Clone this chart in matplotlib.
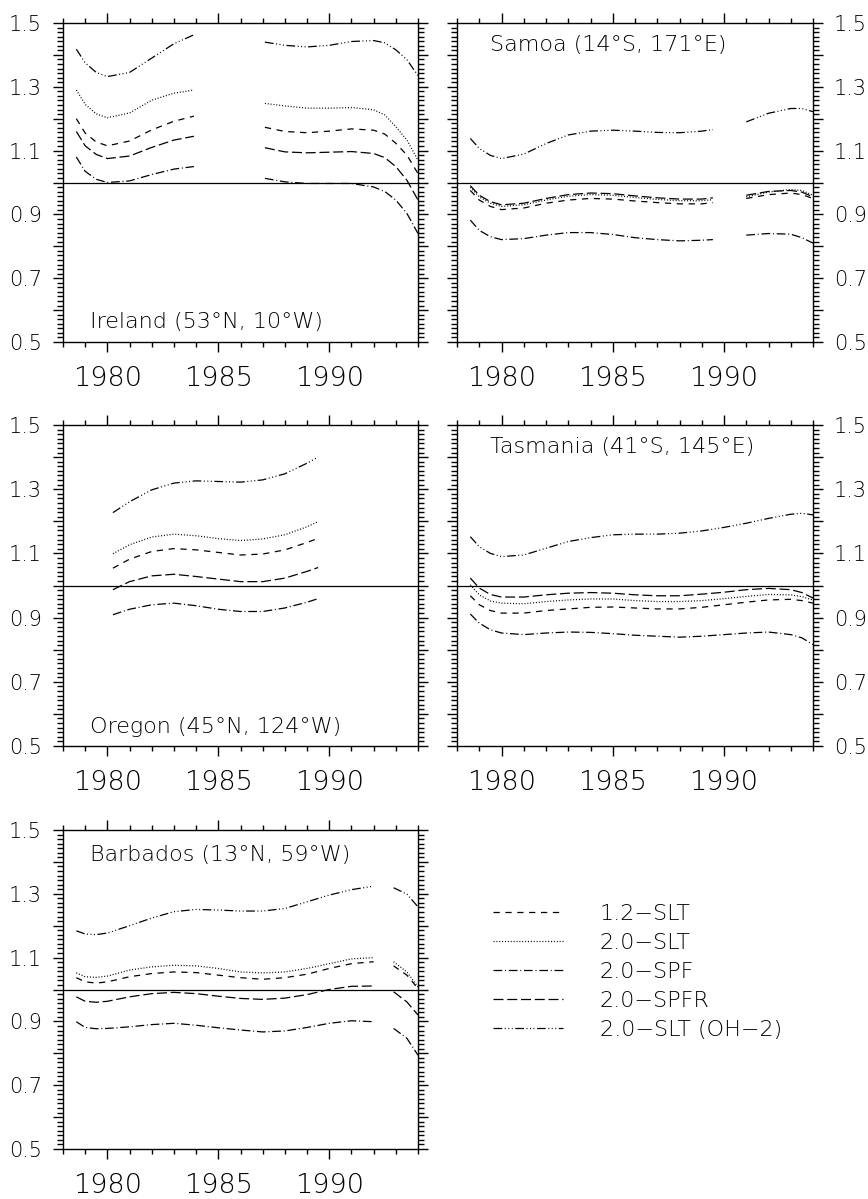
import numpy as np
import matplotlib
matplotlib.use("Agg")
import matplotlib.pyplot as plt
from matplotlib.ticker import MultipleLocator, AutoMinorLocator, FuncFormatter

plt.rcParams["font.family"] = ["DejaVu Sans"]
plt.rcParams["font.weight"] = "light"

nan = np.nan

# Model runs shown in every panel
RUNS = ["1.2−SLT", "2.0−SLT", "2.0−SPF", "2.0−SPFR", "2.0−SLT (OH−2)"]

# ---- Ireland (53N, 10W) ----
IRL_YEARS = [1978.6, 1979, 1979.5, 1980, 1981, 1982, 1983, 1983.9, nan,
             1987.1, 1988, 1989, 1990, 1991, 1992, 1992.5, 1993, 1993.5, 1994]
IRL_SLT12 = [1.200, 1.155, 1.127, 1.115, 1.130, 1.165, 1.192, 1.208, nan,
             1.173, 1.160, 1.156, 1.161, 1.168, 1.164, 1.152, 1.123, 1.086, 1.028]
IRL_SLT20 = [1.290, 1.245, 1.215, 1.203, 1.218, 1.258, 1.280, 1.290, nan,
             1.248, 1.240, 1.233, 1.233, 1.235, 1.228, 1.212, 1.175, 1.133, 1.070]
IRL_SPF = [1.080, 1.035, 1.010, 1.000, 1.005, 1.025, 1.042, 1.050, nan,
           1.013, 1.002, 0.997, 0.997, 0.997, 0.986, 0.972, 0.945, 0.903, 0.840]
IRL_SPFR = [1.160, 1.115, 1.088, 1.075, 1.083, 1.110, 1.133, 1.145, nan,
            1.109, 1.096, 1.093, 1.095, 1.097, 1.091, 1.078, 1.050, 1.007, 0.945]
IRL_OH2 = [1.418, 1.375, 1.345, 1.332, 1.345, 1.390, 1.435, 1.463, nan,
           1.440, 1.430, 1.425, 1.430, 1.442, 1.445, 1.438, 1.416, 1.385, 1.335]

# ---- Samoa (14S, 171E) ----
SAM_YEARS = [1978.6, 1979, 1979.5, 1980, 1981, 1982, 1983, 1984, 1985, 1986,
             1987, 1988, 1989, 1989.5, nan, 1991, 1992, 1993, 1993.5, 1994]
SAM_SLT12 = [0.975, 0.945, 0.925, 0.915, 0.920, 0.935, 0.945, 0.950, 0.948, 0.942,
             0.937, 0.933, 0.933, 0.937, nan, 0.950, 0.962, 0.967, 0.962, 0.950]
SAM_SLT20 = [0.985, 0.955, 0.935, 0.925, 0.930, 0.945, 0.957, 0.962, 0.960, 0.953,
             0.947, 0.943, 0.943, 0.946, nan, 0.955, 0.970, 0.978, 0.975, 0.960]
SAM_SPF = [0.882, 0.850, 0.830, 0.821, 0.824, 0.835, 0.843, 0.843, 0.837, 0.827,
           0.821, 0.817, 0.819, 0.821, nan, 0.835, 0.840, 0.838, 0.827, 0.810]
SAM_SPFR = [0.990, 0.960, 0.940, 0.930, 0.935, 0.950, 0.962, 0.967, 0.965, 0.958,
            0.952, 0.948, 0.948, 0.952, nan, 0.960, 0.972, 0.975, 0.970, 0.955]
SAM_OH2 = [1.138, 1.107, 1.085, 1.075, 1.089, 1.122, 1.149, 1.161, 1.164, 1.161,
           1.157, 1.156, 1.161, 1.166, nan, 1.190, 1.217, 1.232, 1.232, 1.222]

# ---- Oregon (45N, 124W) ----
ORE_YEARS = [1980.25, 1981, 1982, 1983, 1984, 1985, 1986, 1987, 1988, 1989, 1989.5]
ORE_SLT12 = [1.054, 1.082, 1.106, 1.115, 1.111, 1.103, 1.095, 1.098, 1.111, 1.134, 1.147]
ORE_SLT20 = [1.099, 1.127, 1.151, 1.160, 1.155, 1.146, 1.140, 1.145, 1.158, 1.183, 1.199]
ORE_SPF = [0.909, 0.926, 0.940, 0.945, 0.937, 0.926, 0.919, 0.919, 0.930, 0.948, 0.959]
ORE_SPFR = [0.987, 1.012, 1.030, 1.035, 1.028, 1.020, 1.012, 1.012, 1.023, 1.044, 1.056]
ORE_OH2 = [1.227, 1.261, 1.298, 1.319, 1.326, 1.324, 1.322, 1.329, 1.348, 1.381, 1.400]

# ---- Tasmania (41S, 145E) ----
TAS_YEARS = [1978.6, 1979, 1979.5, 1980, 1981, 1982, 1983, 1984, 1985, 1986,
             1987, 1988, 1989, 1990, 1991, 1992, 1993, 1993.5, 1994]
TAS_SLT12 = [0.968, 0.940, 0.922, 0.914, 0.914, 0.922, 0.927, 0.932, 0.933, 0.930,
             0.927, 0.927, 0.932, 0.940, 0.948, 0.955, 0.957, 0.953, 0.945]
TAS_SLT20 = [1.002, 0.971, 0.952, 0.945, 0.943, 0.950, 0.955, 0.958, 0.958, 0.953,
             0.950, 0.950, 0.953, 0.959, 0.966, 0.972, 0.971, 0.965, 0.955]
TAS_SPF = [0.911, 0.883, 0.862, 0.852, 0.847, 0.852, 0.855, 0.854, 0.850, 0.845,
           0.842, 0.839, 0.842, 0.847, 0.852, 0.855, 0.847, 0.837, 0.816]
TAS_SPFR = [1.023, 0.992, 0.972, 0.964, 0.964, 0.971, 0.976, 0.978, 0.976, 0.971,
            0.968, 0.968, 0.973, 0.979, 0.987, 0.991, 0.987, 0.978, 0.961]
TAS_OH2 = [1.152, 1.121, 1.100, 1.090, 1.095, 1.116, 1.137, 1.149, 1.158, 1.160,
           1.160, 1.163, 1.170, 1.181, 1.194, 1.209, 1.222, 1.225, 1.220]

# ---- Barbados (13N, 59W) ----
BAR_YEARS = [1978.6, 1979, 1979.5, 1980, 1981, 1982, 1983, 1984, 1985, 1986,
             1987, 1988, 1989, 1990, 1991, 1992, nan, 1992.9, 1993.5, 1994]
BAR_SLT12 = [1.037, 1.024, 1.020, 1.024, 1.040, 1.050, 1.055, 1.053, 1.045, 1.037,
             1.032, 1.037, 1.048, 1.066, 1.081, 1.087, nan, 1.074, 1.045, 1.003]
BAR_SLT20 = [1.052, 1.040, 1.038, 1.042, 1.061, 1.071, 1.076, 1.074, 1.066, 1.055,
             1.052, 1.055, 1.066, 1.081, 1.096, 1.100, nan, 1.087, 1.055, 1.008]
BAR_SPF = [0.899, 0.881, 0.877, 0.878, 0.883, 0.890, 0.894, 0.888, 0.880, 0.873,
           0.867, 0.870, 0.881, 0.894, 0.902, 0.899, nan, 0.878, 0.847, 0.794]
BAR_SPFR = [0.977, 0.963, 0.960, 0.963, 0.977, 0.987, 0.991, 0.987, 0.979, 0.972,
            0.969, 0.973, 0.984, 1.000, 1.010, 1.011, nan, 0.993, 0.961, 0.920]
BAR_OH2 = [1.184, 1.174, 1.172, 1.177, 1.200, 1.224, 1.244, 1.251, 1.249, 1.246,
           1.246, 1.254, 1.275, 1.296, 1.313, 1.324, nan, 1.319, 1.299, 1.259]

# Dash patterns for the five runs (same order as RUNS)
DASHES = [
    (0, (5.0, 4.5)),                                   # short dash
    (0, (0.8, 1.5)),                                   # dotted
    (0, (7.0, 2.2, 0.8, 2.2)),                         # dash-dot
    (0, (8.0, 3.0)),                                   # long dash
    (0, (7.0, 2.0, 0.8, 2.0, 0.8, 2.0, 0.8, 2.0)),     # dash-dot-dot-dot
]

W, H = 868, 1199


def box(left, top, right, bottom):
    return [left / W, 1 - bottom / H, (right - left) / W, (bottom - top) / H]


panels = [
    dict(name="Ireland (53°N, 10°W)", years=IRL_YEARS,
         vals=[IRL_SLT12, IRL_SLT20, IRL_SPF, IRL_SPFR, IRL_OH2],
         rect=box(63, 23, 418, 342), right=False, tx=0.076, ty=0.063),
    dict(name="Samoa (14°S, 171°E)", years=SAM_YEARS,
         vals=[SAM_SLT12, SAM_SLT20, SAM_SPF, SAM_SPFR, SAM_OH2],
         rect=box(457, 23, 813, 342), right=True, tx=0.093, ty=0.931),
    dict(name="Oregon (45°N, 124°W)", years=ORE_YEARS,
         vals=[ORE_SLT12, ORE_SLT20, ORE_SPF, ORE_SPFR, ORE_OH2],
         rect=box(63, 425, 418, 746), right=False, tx=0.076, ty=0.059),
    dict(name="Tasmania (41°S, 145°E)", years=TAS_YEARS,
         vals=[TAS_SLT12, TAS_SLT20, TAS_SPF, TAS_SPFR, TAS_OH2],
         rect=box(457, 425, 813, 746), right=True, tx=0.093, ty=0.931),
    dict(name="Barbados (13°N, 59°W)", years=BAR_YEARS,
         vals=[BAR_SLT12, BAR_SLT20, BAR_SPF, BAR_SPFR, BAR_OH2],
         rect=box(63, 830, 418, 1149), right=False, tx=0.076, ty=0.922),
]


def ylab(v, pos):
    k = int(round(v * 10))
    return f"{v:.1f}" if k % 2 == 1 else ""


fig = plt.figure(figsize=(W / 100, H / 100), dpi=100)
handles = None

for p in panels:
    ax = fig.add_axes(p["rect"])
    lines = []
    for vals, ls in zip(p["vals"], DASHES):
        ln, = ax.plot(p["years"], vals, color="black", lw=0.9, linestyle=ls)
        lines.append(ln)
    handles = lines
    ax.axhline(1.0, color="black", lw=0.9)

    ax.set_xlim(1978, 1994)
    ax.set_ylim(0.5, 1.5)
    ax.xaxis.set_major_locator(MultipleLocator(5))
    ax.xaxis.set_minor_locator(MultipleLocator(1))
    ax.yaxis.set_major_locator(MultipleLocator(0.1))
    ax.yaxis.set_minor_locator(AutoMinorLocator(7))
    ax.yaxis.set_major_formatter(FuncFormatter(ylab))

    for s in ax.spines.values():
        s.set_linewidth(1.0)

    ax.tick_params(axis="x", which="both", direction="out", top=True, bottom=True,
                   labelsize=19.5, pad=10, width=1.0)
    ax.tick_params(axis="x", which="major", length=7)
    ax.tick_params(axis="x", which="minor", length=3.5)
    ax.tick_params(axis="y", which="both", direction="out", left=True, right=True,
                   labelleft=not p["right"], labelright=p["right"],
                   labelsize=15, pad=8, width=1.0)
    ax.tick_params(axis="y", which="major", length=7)
    ax.tick_params(axis="y", which="minor", length=4)

    ax.text(p["tx"], p["ty"], p["name"], transform=ax.transAxes,
            ha="left", va="center", fontsize=16)

fig.legend(handles, RUNS, loc="upper left",
           bbox_to_anchor=(493 / W, 1 - 904 / H), frameon=False,
           fontsize=16, handlelength=3.15, handletextpad=1.66,
           labelspacing=0.40, borderpad=0, borderaxespad=0)

fig.savefig("out.png", dpi=100)
